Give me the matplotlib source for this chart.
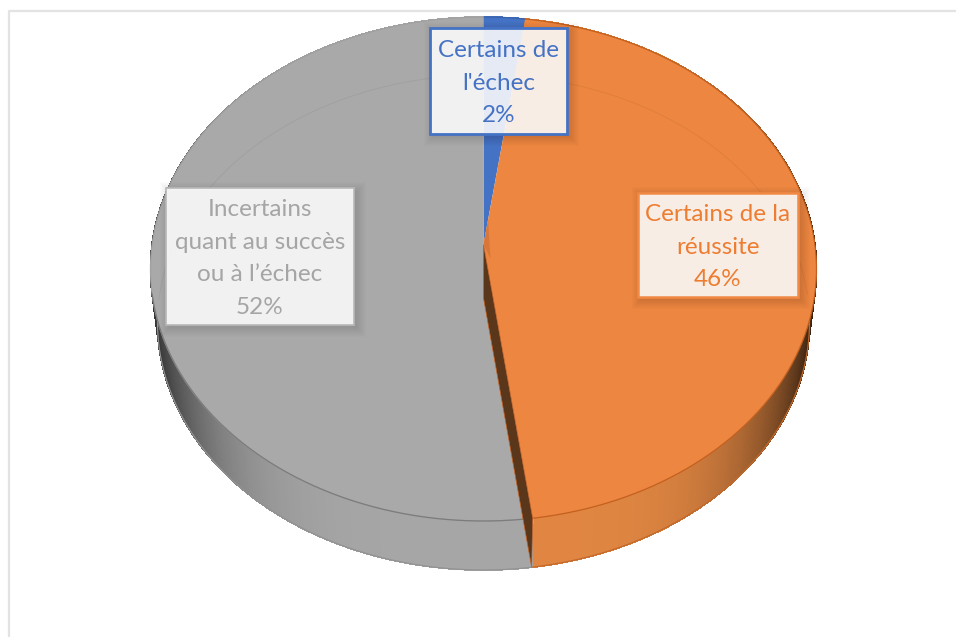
import numpy as np
import matplotlib
matplotlib.use('Agg')
import matplotlib.pyplot as plt
from matplotlib.patches import Polygon, Rectangle

plt.rcParams['font.family'] = ['Lato', 'DejaVu Sans']

# data
names = ["Certains de\nl'échec", "Certains de la\nréussite", "Incertains\nquant au succès\nou à l’échec"]
values = [2, 46, 52]
top_colors = ['#4472C4', '#EC8640', '#A9A9A9']
side_colors = ['#4472C4', '#E08642', '#A6A6A6']
rim_colors = ['#3A62AA', '#C4601F', '#A0A0A0']
text_colors = ['#4472C4', '#ED7D31', '#A5A5A5']
box_edges = ['#4472C4', '#F08A45', '#B8B8B8']
box_widths = [2.0, 1.8, 1.2]

# label boxes: left, top, width, height
boxes = [(430, 28, 137, 106), (638, 193, 160, 104), (166, 188, 188, 137)]

# pie geometry in pixels
cx = 483.5
top_cy, top_rx, top_ry = 269, 333, 252
low_cy, low_rx, low_ry = 322.5, 326, 247.5
apex_shift = -24.5
tilt = 1.3  # perspective pull on the angles, degrees


def shown_angle(a):
    return a - tilt * (1 - np.cos(np.radians(a))) / 2


def top_rim(a):
    r = np.radians(shown_angle(a))
    return np.column_stack([cx + top_rx * np.sin(r), top_cy - top_ry * np.cos(r)])


def low_rim(a):
    r = np.radians(shown_angle(a))
    return np.column_stack([cx + low_rx * np.sin(r), low_cy - low_ry * np.cos(r)])


def shade(color, f):
    return tuple(c * f for c in matplotlib.colors.to_rgb(color))


fig = plt.figure(figsize=(9.56, 6.37), dpi=100)
ax = fig.add_axes([0, 0, 1, 1])
ax.set_xlim(0, 956)
ax.set_ylim(637, 0)
ax.axis('off')

# chart frame
ax.plot([9, 9, 956], [637, 11, 11], color='#E3E3E3', lw=1.6, zorder=1)

edges = np.cumsum([0] + values) * 3.6
apex_top = np.array([[cx, top_cy + apex_shift]])
apex_low = np.array([[cx, low_cy + apex_shift]])

# sides, built from narrow strips so the shading can run along the rim
powers = [3, 4.5, 5]
depths = [0.5, 0.78, 0.68]
for i in range(3):
    angles = np.linspace(edges[i], edges[i + 1], int(values[i] * 6) + 2)
    for a0, a1 in zip(angles[:-1], angles[1:]):
        s = abs(np.sin(np.radians((a0 + a1) / 2)))
        f = 1 - depths[i] * s ** powers[i]
        pts = np.vstack([top_rim(np.array([a0, a1])), low_rim(np.array([a1, a0]))])
        ax.add_patch(Polygon(pts, closed=True, fc=shade(side_colors[i], f),
                             ec=shade(side_colors[i], f), lw=0.6, antialiased=False, zorder=2))

# lower outline
angles = np.linspace(edges[1] + 10, edges[2], 200)
ax.plot(*low_rim(angles).T, color='#C4682A', lw=0.9, zorder=2.5)
angles = np.linspace(edges[2], edges[3] - 84, 200)
ax.plot(*low_rim(angles).T, color='#929292', lw=0.9, zorder=2.5)

# top faces
for i in range(3):
    angles = np.linspace(edges[i], edges[i + 1], int(values[i] * 6) + 2)
    pts = np.vstack([apex_top, top_rim(angles)])
    ax.add_patch(Polygon(pts, closed=True, fc=top_colors[i], ec='none', zorder=3))
    ax.plot(*top_rim(angles).T, color=rim_colors[i], lw=0.9, zorder=4)

# darker rim where the grey top meets its side
angles = np.linspace(edges[2], edges[3] - 95, 200)
ax.plot(*top_rim(angles).T, color='#7C7C7C', lw=0.9, zorder=4)

# faint back edge seen through the top
angles = np.linspace(-84, 84, 200)
ax.plot(*low_rim(angles).T, color='#000000', lw=0.7, alpha=0.05, zorder=4)

# cut wall of the orange slice, seen between orange and grey
a_cut = np.array([edges[2]])
wall = np.vstack([apex_top, apex_low, low_rim(a_cut), top_rim(a_cut)])
ax.add_patch(Polygon(wall, closed=True, fc='#5A361B', ec='#C8601F', lw=0.5, zorder=5))

# darker strip by the blue slice
a_cut = np.array([edges[1]])
tip = apex_top + (top_rim(a_cut) - apex_top) * 0.11
strip = np.vstack([apex_top, tip, apex_top + [[7, 14]]])
ax.add_patch(Polygon(strip, closed=True, fc='#D9773A', ec='none', zorder=5))

# labels
for i in range(3):
    x, y, w, h = boxes[i]
    for k in range(10):
        ax.add_patch(Rectangle((x + 3 - k, y + 3 - k), w + 2 * k, h + 2 * k, fc='black',
                               ec='none', alpha=0.011, zorder=6))
    ax.add_patch(Rectangle((x, y), w, h, fc='white', ec='none', alpha=0.88, zorder=7))
    ax.add_patch(Rectangle((x, y), w, h, fc='none', ec=box_edges[i], lw=box_widths[i], zorder=8))
    ax.text(x + w / 2, y + h / 2 + 2, f"{names[i]}\n{values[i]}%", color=text_colors[i],
            fontsize=17.5, ha='center', va='center', linespacing=1.7, zorder=9)

fig.savefig('out.png', dpi=100)
